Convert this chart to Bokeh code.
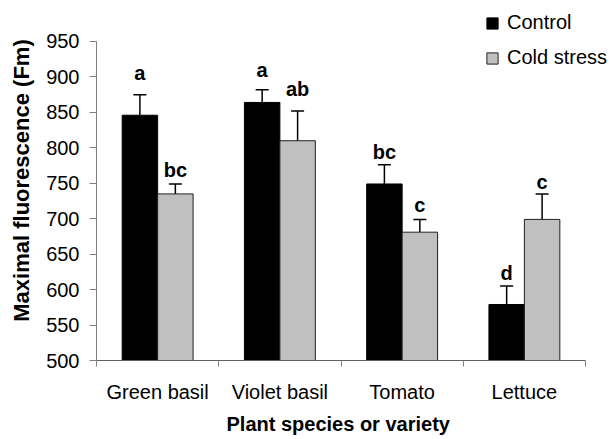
from bokeh.plotting import figure
from bokeh.models import (ColumnDataSource, FixedTicker, Whisker, TeeHead, Legend,
                          LegendItem, Range1d, Title)
from bokeh.core.properties import value
from bokeh.embed import file_html
from bokeh.resources import INLINE

# ---- data ----
categories = ["Green basil", "Violet basil", "Tomato", "Lettuce"]
series_names = ["Control", "Cold stress"]
control_mean = [846, 864, 749, 579]
control_se = [29, 18, 27, 26]
cold_mean = [735, 810, 681, 699]
cold_se = [14, 42, 18, 36]
control_letters = ["a", "a", "bc", "d"]
cold_letters = ["bc", "ab", "c", "c"]
y_ticks = [500, 550, 600, 650, 700, 750, 800, 850, 900, 950]
y_label = "Maximal fluorescence (Fm)"
x_label = "Plant species or variety"

# ---- style: pixel gap between error-bar cap and its letter ----
control_letter_gap = [15, 13, 6, 6]
cold_letter_gap = [7, 15, 7, 5]

FONT = "Liberation Sans"
FS = "20px"
AXIS_GRAY = "#808080"
BAR_W = 0.29
OFFSET = 0.145

n = len(categories)
centers = [i + 0.5 for i in range(n)]

def make_source(means, ses, letters, gaps, off):
    return ColumnDataSource(dict(
        x=[c + off for c in centers],
        top=means,
        upper=[m + s for m, s in zip(means, ses)],
        letter=letters,
        yoff=[-(g - 4) for g in gaps],
    ))

src_ctrl = make_source(control_mean, control_se, control_letters, control_letter_gap, -OFFSET)
src_cold = make_source(cold_mean, cold_se, cold_letters, cold_letter_gap, OFFSET)

p = figure(width=613, height=439, output_backend="svg", toolbar_location=None,
           x_range=Range1d(0, n + 0.229), y_range=Range1d(500, 1007.8),
           min_border_left=96, min_border_right=0, min_border_top=0,
           min_border_bottom=79)
p.outline_line_color = None
p.xgrid.visible = False
p.ygrid.visible = False
p.background_fill_color = "white"
p.border_fill_color = "white"

r_ctrl = p.vbar(x="x", top="top", bottom=500, width=BAR_W, source=src_ctrl,
                fill_color="black", line_color="black", line_width=1)
r_cold = p.vbar(x="x", top="top", bottom=500, width=BAR_W, source=src_cold,
                fill_color="#C0C0C0", line_color="#202020", line_width=1)

for src in (src_ctrl, src_cold):
    w = Whisker(source=src, base="x", lower="top", upper="upper", dimension="height",
                line_color="black", line_width=1.5, lower_head=None,
                upper_head=TeeHead(size=13, line_color="black", line_width=1.5))
    p.add_layout(w)
    p.text(x="x", y="upper", text="letter", source=src, text_align="center",
           text_baseline="bottom", y_offset="yoff", text_font=value(FONT),
           text_font_style="bold", text_font_size=FS, text_color="black")

# y axis
ya = p.yaxis[0]
ya.ticker = FixedTicker(ticks=y_ticks)
ya.bounds = (500, 950)
ya.axis_line_color = AXIS_GRAY
ya.major_tick_line_color = AXIS_GRAY
ya.major_tick_out = 7
ya.major_tick_in = 0
ya.minor_tick_line_color = None
ya.major_label_standoff = 10
ya.major_label_text_font = FONT
ya.major_label_text_font_size = FS
ya.major_label_text_color = "black"
ya.axis_label = y_label
ya.axis_label_text_font = FONT
ya.axis_label_text_font_style = "bold"
ya.axis_label_text_font_size = "22px"
ya.axis_label_text_color = "black"
ya.axis_label_standoff = 9

# x axis
xa = p.xaxis[0]
xa.ticker = FixedTicker(ticks=centers, minor_ticks=list(range(n + 1)))
xa.bounds = (0, n)
xa.major_label_overrides = {c: cat for c, cat in zip(centers, categories)}
xa.axis_line_color = "#606060"
xa.major_tick_line_color = None
xa.major_tick_out = 0
xa.major_tick_in = 0
xa.minor_tick_line_color = AXIS_GRAY
xa.minor_tick_out = 6
xa.minor_tick_in = 0
xa.major_label_standoff = 14
xa.major_label_text_font = FONT
xa.major_label_text_font_size = FS
xa.major_label_text_color = "black"

# x-axis title, centred under the four categories (not the whole frame)
p.add_layout(Title(text=x_label, align="left", offset=130, standoff=10,
                   text_font=FONT, text_font_style="bold", text_font_size=FS,
                   text_color="black"), "below")

legend = Legend(items=[LegendItem(label=series_names[0], renderers=[r_ctrl]),
                       LegendItem(label=series_names[1], renderers=[r_cold])],
                location=(389, 291), orientation="vertical",
                glyph_width=14, glyph_height=14, label_height=14, spacing=12,
                padding=0, margin=0, border_line_color=None,
                background_fill_alpha=0, label_standoff=8,
                label_text_font=FONT, label_text_font_size=FS,
                label_text_color="black")
p.add_layout(legend, "center")

open("out.html", "w").write(file_html(p, INLINE))
